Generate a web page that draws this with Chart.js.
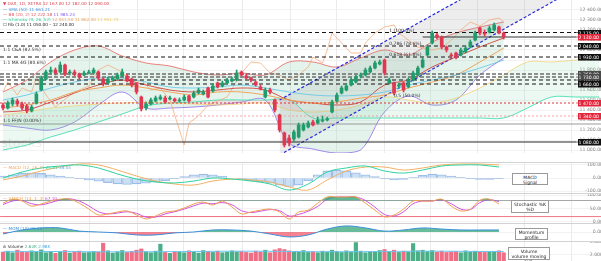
<!DOCTYPE html>
<html lang="de">
<head>
<meta charset="utf-8">
<title>DAX Chart</title>
<script src="https://cdn.jsdelivr.net/npm/chart.js@4.4.1/dist/chart.umd.min.js"></script>
<style>
  html, body { margin: 0; padding: 0; background: #fff; }
  body { width: 601px; height: 261px; position: relative; overflow: hidden; font-family: 'DejaVu Sans', sans-serif; }
  .pane { position: absolute; left: 0; width: 601px; }
  .sep { position: absolute; left: 0; width: 601px; height: 1px; background: #d2d2d2; }
  .leg { position: absolute; left: 3px; font-size: 4.2px; line-height: 5px; white-space: nowrap; }
  .box { position: absolute; background: #fff; border: 1px solid #9a9a9a; font-size: 4.5px; line-height: 5.1px; text-align: center; color: #222; padding-top: 0.5px; box-sizing: border-box; }
</style>
</head>
<body>
<div class="pane" style="top:0;height:162px"><canvas id="mainChart"></canvas></div>
<div class="pane" style="top:163px;height:30px"><canvas id="macdChart"></canvas></div>
<div class="pane" style="top:193px;height:30px"><canvas id="stochChart"></canvas></div>
<div class="pane" style="top:223px;height:18px"><canvas id="momChart"></canvas></div>
<div class="pane" style="top:241px;height:20px"><canvas id="volChart"></canvas></div>
<div class="sep" style="top:162px"></div>
<div class="sep" style="top:193px"></div>
<div class="sep" style="top:223px"></div>
<div class="sep" style="top:241px"></div>

<div class="leg" style="top:1px;color:#d8434e">▼ DAX, 1D, XETRA 12 167.00 12 182.00 12 090.00</div>
<div class="leg" style="top:6.5px;color:#3f8fdc">— SMA (50) 11 661.21</div>
<div class="leg" style="top:11.5px;color:#e0525a">— BB (20, 2) 12 222.18 <span style="color:#8b5cf0">11 985.24</span></div>
<div class="leg" style="top:16.5px;color:#2fcf9f">— Ichimoku (9, 26, 52) <span style="color:#f0a35a">12 041.50 11 862.00</span> <span style="color:#e8c860">11 951.75</span></div>
<div class="leg" style="top:21.5px;color:#222">☐ Fib (1.0) 11 050.00 – 12 240.00</div>

<div class="leg" style="top:164.5px;color:#f0a35a">— MACD (12, 26, 9) <span style="color:#2fcf9f">25.91</span> <span style="color:#6fa8dc">38.04</span></div>
<div class="leg" style="top:195.5px;color:#f0a050">— STOCH (14, 3, 3) <span style="color:#d050e0">67.10</span></div>
<div class="leg" style="top:225.5px;color:#3b8fd9">— MOM (10) 26.12</div>
<div class="leg" style="top:243.5px;color:#333">ılı Volume <span style="color:#3aa876">2.62K</span> <span style="color:#4aa8e0">2.98K</span></div>

<div class="box" style="left:512px;top:173px;width:36px;height:12px">MACD<br>Signal</div>
<div class="box" style="left:511px;top:200px;width:38px;height:13px">Stochastic %K<br>%D</div>
<div class="box" style="left:515px;top:228px;width:33px;height:12px">Momentum<br>profile</div>
<div class="box" style="left:508px;top:247px;width:42px;height:13px">Volume<br>volume moving avg.</div>

<script>
// ---- candles (index 0..105) ----
const candleOpen = [11450,11420,11460,11490,11460,11440,11390,11470,11600,11710,
  11780,11800,11780,11850,11770,11780,11760,11750,11770,11770,
  11780,11710,11670,11700,11710,11740,11740,11710,11660,11530,
  11420,11460,11490,11510,11520,11510,11510,11490,11500,11540,
  11530,11570,11560,11620,11590,11670,11640,11670,11690,11700,
  11780,11740,11720,11680,11630,11530,11600,11500,11350,11170,
  11120,11110,11130,11200,11230,11280,11270,11290,11300,11380,
  11490,11570,11600,11650,11680,11740,11750,11780,11820,11860,
  11900,11670,11670,11640,11670,11630,11700,11750,11830,11950,
  12070,12150,12130,12030,11950,11970,11950,11980,12030,12100,
  12220,12170,12180,12200,12230,12170];
const candleClose = [11420,11470,11500,11460,11420,11390,11430,11560,11720,11780,
  11800,11770,11850,11760,11780,11760,11730,11770,11780,11800,
  11720,11660,11710,11720,11750,11780,11690,11650,11580,11410,
  11460,11500,11520,11530,11480,11520,11490,11500,11530,11490,
  11570,11600,11580,11530,11640,11630,11670,11700,11710,11770,
  11750,11720,11700,11650,11610,11600,11580,11400,11200,11050,
  11070,11180,11250,11250,11270,11250,11300,11300,11310,11480,
  11550,11620,11640,11700,11730,11750,11800,11820,11870,11880,
  11770,11700,11570,11650,11600,11700,11770,11820,11900,12030,
  12170,12130,12030,12000,11940,11930,12000,12020,12080,12170,
  12170,12160,12220,12250,12170,12130];
const candleHigh = [11470,11490,11520,11510,11480,11460,11450,11580,11740,11800,
  11830,11820,11880,11860,11800,11800,11770,11790,11800,11820,
  11790,11720,11730,11740,11770,11810,11760,11720,11670,11540,
  11480,11520,11540,11550,11540,11540,11520,11520,11550,11550,
  11590,11620,11600,11630,11660,11680,11690,11720,11730,11800,
  11790,11760,11730,11690,11650,11620,11620,11510,11360,11180,
  11150,11200,11270,11270,11290,11300,11330,11340,11330,11500,
  11570,11640,11660,11720,11750,11770,11820,11840,11890,11900,
  11910,11720,11680,11670,11680,11720,11790,11840,11920,12050,
  12190,12170,12140,12040,11970,11980,12020,12040,12100,12190,
  12230,12200,12240,12270,12240,12180];
const candleLow = [11400,11410,11440,11440,11400,11370,11380,11460,11590,11700,
  11760,11750,11770,11740,11750,11740,11710,11740,11760,11760,
  11700,11640,11660,11690,11700,11730,11680,11630,11560,11390,
  11400,11450,11480,11500,11470,11500,11480,11480,11490,11480,
  11520,11560,11550,11520,11580,11620,11630,11660,11680,11690,
  11740,11710,11680,11640,11600,11520,11560,11380,11180,11030,
  11040,11090,11120,11190,11220,11240,11260,11280,11290,11370,
  11480,11560,11590,11640,11670,11720,11740,11770,11810,11850,
  11750,11660,11550,11620,11580,11620,11690,11740,11820,11940,
  12060,12110,12010,11980,11920,11910,11940,11970,12020,12090,
  12150,12140,12170,12190,12160,12110];
const volumeK = [2.8,3.1,2.6,3.4,3.0,2.7,3.2,2.9,3.5,2.6,
  3.0,2.4,2.8,3.3,2.5,2.9,3.1,2.6,2.7,3.0,
  2.8,5.6,3.2,2.5,2.9,3.3,2.7,3.0,3.4,3.8,
  2.9,2.6,3.1,5.3,2.7,2.4,3.0,2.8,2.6,3.2,
  2.9,2.5,3.3,3.0,2.7,3.1,2.6,2.8,3.2,2.9,
  3.0,2.7,2.5,3.1,2.8,3.4,2.6,3.5,3.9,3.6,
  3.2,3.0,2.8,3.3,2.7,2.9,2.6,3.1,2.8,3.4,
  3.0,2.7,3.2,2.9,5.8,3.1,2.6,3.0,2.8,3.3,
  3.6,3.0,3.4,2.7,3.1,2.9,5.5,3.2,3.4,3.0,
  3.3,2.8,3.1,2.7,2.9,3.0,2.6,3.2,2.8,3.1,
  2.9,2.7,3.0,2.8,3.2,2.6];

// ---- overlays on the price pane ----
const ovIdx = [0,5,10,15,20,25,30,35,40,45,50,55,60,65,70,75,80,85,90,95,100,105];
const bbUpper = [11580,11700,11880,12000,12040,11940,11870,11840,11780,11750,11770,11750,11880,11880,11830,11920,12000,11950,12080,12170,12230,12280];
const bbLower = [11250,11220,11200,11280,11450,11580,11420,11420,11430,11450,11480,11500,11070,11010,10970,11000,11380,11540,11450,11500,11750,11920];
const smaRed = [11380,11400,11480,11570,11650,11700,11650,11600,11580,11600,11620,11600,11500,11470,11450,11480,11650,11700,11830,11930,12030,12120];
const smaOrange = [11420,11450,11500,11580,11620,11650,11620,11580,11550,11580,11580,11550,11500,11470,11480,11520,11550,11620,11680,11750,11880,12020];
const smaCyan = [11500,11550,11620,11680,11720,11720,11680,11630,11620,11630,11650,11620,11580,11550,11540,11550,11580,11650,11700,11750,11820,11900];
const ichiIdx = [0,5,10,15,20,25,30,35,40,45,50,55,60,65,70,75,80,85,90,95,100,105,110,115,120,125];
const ichiSpanA = [11350,11380,11420,11440,11460,11470,11480,11470,11460,11450,11460,11470,11400,11380,11400,11450,11530,11500,11470,11520,11620,11750,11880,11880,11900,11920];
const ichiSpanB = [11000,11050,11130,11200,11280,11360,11440,11470,11480,11500,11500,11500,11500,11320,11320,11320,11320,11320,11320,11320,11320,11320,11420,11530,11530,11530];
const thinIdx = [0,1,3,4,6,7,9,11,12,15,18,20,22,25,27,29,31,33,35,37,38,39,41,43,47,50,52,54,56,58,60,62,64,65,67,68,69,71,73,75,76,78,80,82,83,85,87,90,92,94,96,98,100,102,104,105];
const thinVal = [11580,11680,11550,11620,11580,11730,11550,11430,11470,11580,11640,11800,11850,11780,11650,11700,11600,11620,11500,11200,11050,11270,11340,11450,11530,11770,11880,11870,11770,11750,11700,11750,11830,11930,11870,12000,12170,12070,11970,11970,12070,12170,12230,12250,12170,12100,12030,12000,12020,12100,12200,12280,12240,12300,12320,12280];
const chanIdx = [58, 126];
const chanUpper = [11500, 13300];
const chanLower = [10950, 12770];

// ---- horizontal levels ----
const blackDashLevels = [12175, 12040, 11930, 11700, 11660];
const grayDashLevels = [11760, 11730];
const redDotLevels = [11470];
const pinkDotLevels = [11340];
const graySolidLevels = [11260];
const blackSolidLevels = [11080];
const fibText = ['1:1 C&A (82.5%)', '1:1 MA 4G (80.6%)', '1:1 FF/N (0.00%)', '1 (100.0%)', '0.786 (78.6%)', '0.618 (61.8%)', '0.5 (50.0%)'];
const fibTextIdx = [0, 0, 0, 81, 81, 81, 82];
const fibTextPrice = [12000, 11870, 11290, 12195, 12060, 11950, 11545];
const watermarkText = 'stocks';

// ---- axes ----
const priceTicks = [11000,11100,11200,11300,11400,11500,11600,11700,11800,11900,12000,12100,12200,12300,12400];
const gridIdx = [8.4, 18.2, 28.1, 37.9, 50.3, 60.2, 70.0, 79.9, 89.7, 99.6, 109.4, 119.3];
const dateTickIdx = [1.1,5.2,9.4,13.6,17.8,22.0,26.2,30.4,34.6,38.8,43.0,47.2,51.4,55.6,59.7,63.9,68.1,72.3,76.5,80.7,84.9,89.1,93.3,97.5,101.7];
const dateTickLabels = ['Mar','9','16','23','30','Apr','13','20','27','May','11','18','25','Jun','8','15','22','29','Jul','13','20','27','Aug','10','17'];

// ---- lower panes ----
const idx4 = [0,4,8,12,16,20,24,28,32,36,40,44,48,52,56,60,64,68,72,76,80,84,88,92,96,100,104];
const macdLine = [0,46,77,92,100,77,31,-8,-31,-38,-23,0,-8,-23,-46,-92,-46,46,77,92,54,38,61,92,100,100,84];
const macdSignal = [-15,15,54,84,107,100,61,15,-23,-46,-54,-23,-8,-15,-31,-69,-92,-15,54,84,84,61,77,100,107,107,100];
const idx2 = [0,2,4,6,8,10,12,14,16,18,20,22,24,26,28,30,32,34,36,38,40,42,44,46,48,50,52,54,56,58,60,62,64,66,68,70,72,74,76,78,80,82,84,86,88,90,92,94,96,98,100,102,104];
const macdHist = [15,25,35,40,35,25,15,5,-5,-15,-25,-35,-45,-50,-45,-40,-30,-20,-5,10,25,30,25,15,0,-10,-20,-30,-40,-55,-65,-55,-20,25,55,60,55,40,25,10,-5,-15,-10,5,20,30,25,15,5,-5,-10,-10,-5];
const stochK = [70,85,78,59,67,78,85,85,70,48,26,30,37,41,26,11,22,37,41,52,67,74,63,78,56,30,37,44,48,37,11,37,44,70,93,93,93,93,70,44,19,26,48,78,78,78,85,59,41,48,81,85,67];
const stochD = [65,78,80,68,64,72,82,86,78,60,38,30,33,38,32,18,18,30,38,48,60,70,68,72,64,42,35,40,46,42,22,28,40,58,85,93,93,93,80,55,28,22,38,68,78,78,82,68,48,46,72,83,76];
const momentum = [-9,9,18,18,4,0,-4,-13,-13,-4,0,9,9,4,-9,-22,-13,13,27,18,4,9,18,13,9,9,9];
const volMaIdx = [0,10,20,30,40,50,60,70,80,90,100,105];
const volMa = [2.9,3.0,2.9,2.9,3.0,3.1,3.0,2.9,3.0,3.1,3.0,3.0];

const X_MIN = -0.63, X_MAX = 125.4;
const UP = '#1f9b6c', DOWN = '#e23750';

Chart.defaults.font.family = "'DejaVu Sans', sans-serif";
Chart.defaults.animation = false;
Chart.defaults.events = [];
Chart.defaults.plugins.legend.display = false;
Chart.defaults.plugins.tooltip.enabled = false;

function fmtPrice(v) {
  const [i, d] = v.toFixed(2).split('.');
  return i.replace(/\B(?=(\d{3})+(?!\d))/g, ' ') + '.' + d;
}

function gridAxis() {
  return {
    type: 'linear', min: X_MIN, max: X_MAX, offset: false,
    afterBuildTicks: ax => { ax.ticks = gridIdx.map(v => ({ value: v })); },
    afterFit: ax => { ax.height = 0; ax.paddingLeft = 0; ax.paddingRight = 0; },
    ticks: { display: false },
    grid: { drawTicks: false, offset: false, color: '#e2e2e2', lineWidth: 0.7 },
    border: { display: false }
  };
}

function yAxis(min, max, ticks, fmt) {
  return {
    position: 'right', min, max, beginAtZero: false,
    afterBuildTicks: ax => { ax.ticks = ticks.map(v => ({ value: v })); },
    afterFit: ax => { ax.width = 0; ax.paddingTop = 0; ax.paddingBottom = 0; },
    ticks: { mirror: true, padding: 2, color: '#8a8a8a', font: { size: 4.6 }, callback: fmt },
    grid: { drawTicks: false, color: '#ededed', lineWidth: 0.7 },
    border: { display: false }
  };
}

function lineDs(xs, ys, color, width, extra) {
  return Object.assign({
    type: 'line',
    data: xs.map((x, i) => ({ x, y: ys[i] })),
    borderColor: color, borderWidth: width,
    pointRadius: 0, tension: 0.35, fill: false, order: 5
  }, extra || {});
}

function levelDs(v, color, width, dash, from) {
  return {
    type: 'line',
    data: [{ x: from === undefined ? X_MIN : from, y: v }, { x: X_MAX, y: v }],
    borderColor: color, borderWidth: width, borderDash: dash,
    pointRadius: 0, fill: false, order: 3
  };
}

const candleIdx = candleOpen.map((_, i) => i);
const candleColors = candleOpen.map((o, i) => candleClose[i] >= o ? UP : DOWN);
const lastClose = candleClose[candleClose.length - 1];

// price labels on the right edge
const priceBoxes = {
  id: 'priceBoxes',
  afterDraw(chart) {
    const { ctx, scales: { y } } = chart;
    const items = []
      .concat(blackDashLevels.map(v => [v, '#111']))
      .concat(blackSolidLevels.map(v => [v, '#111']))
      .concat(grayDashLevels.map(v => [v, '#4a4a4a']))
      .concat(redDotLevels.map(v => [v, '#e3263b']))
      .concat(pinkDotLevels.map(v => [v, '#e3263b']))
      .concat([[lastClose, '#e3263b']]);
    ctx.save();
    ctx.font = '4.6px "DejaVu Sans"';
    ctx.textAlign = 'right';
    ctx.textBaseline = 'middle';
    items.forEach(([v, c]) => {
      const py = Math.round(y.getPixelForValue(v));
      ctx.fillStyle = c;
      ctx.fillRect(578, py - 3, 23, 6.5);
      ctx.fillStyle = '#fff';
      ctx.fillText(fmtPrice(v), 599, py + 0.3);
    });
    ctx.restore();
  }
};

// fib tool captions + watermark
const chartTexts = {
  id: 'chartTexts',
  beforeDatasetsDraw(chart) {
    const ctx = chart.ctx;
    ctx.save();
    ctx.font = '13px "DejaVu Sans"';
    ctx.fillStyle = 'rgba(0,0,0,0.08)';
    ctx.fillText(watermarkText, 1, 147);
    ctx.restore();
  },
  afterDatasetsDraw(chart) {
    const { ctx, scales: { x, y } } = chart;
    ctx.save();
    ctx.font = '4.5px "DejaVu Sans"';
    ctx.fillStyle = '#333';
    ctx.textBaseline = 'middle';
    fibText.forEach((t, i) => {
      ctx.fillText(t, x.getPixelForValue(fibTextIdx[i]), y.getPixelForValue(fibTextPrice[i]));
    });
    ctx.restore();
  }
};

const levelSets = []
  .concat(blackDashLevels.map(v => levelDs(v, '#151515', 1, [4, 3])))
  .concat(grayDashLevels.map(v => levelDs(v, 'rgba(110,110,110,0.75)', 1.8, [4, 2])))
  .concat(redDotLevels.map(v => levelDs(v, '#e0303a', 1, [2, 2])))
  .concat(pinkDotLevels.map(v => levelDs(v, '#f2a0aa', 1, [2, 2])))
  .concat(graySolidLevels.map(v => levelDs(v, '#9a9a9a', 1, [])))
  .concat(blackSolidLevels.map(v => levelDs(v, '#262626', 1, [])))
  .concat([levelDs(lastClose, '#333', 1, [], 88)]);

new Chart(document.getElementById('mainChart'), {
  type: 'bar',
  data: {
    datasets: [
      lineDs(ovIdx, bbUpper, '#e8625f', 0.8, { fill: '+1', backgroundColor: 'rgba(150,212,185,0.26)', order: 9 }),
      lineDs(ovIdx, bbLower, '#8b5cf0', 0.8, { order: 9 }),
      lineDs(ichiIdx, ichiSpanA, '#f2d37a', 0.8, { fill: { target: '+1', above: 'rgba(130,215,175,0.16)', below: 'rgba(240,150,170,0.2)' }, order: 8 }),
      lineDs(ichiIdx, ichiSpanB, '#3fe0b0', 0.9, { order: 8 }),
      lineDs(chanIdx, chanUpper, '#2424e0', 1.2, { fill: '+1', backgroundColor: 'rgba(140,140,140,0.16)', borderDash: [3, 2], tension: 0, order: 7 }),
      lineDs(chanIdx, chanLower, '#2424e0', 1.2, { borderDash: [3, 2], tension: 0, order: 7 }),
      lineDs(ovIdx, smaCyan, '#5ec4e6', 0.8, { order: 6 }),
      lineDs(ovIdx, smaOrange, '#f0a35a', 1.0, { order: 6 }),
      lineDs(ovIdx, smaRed, '#d0433a', 0.9, { order: 6 }),
      lineDs(thinIdx, thinVal, '#f3a36c', 0.7, { order: 6, tension: 0 }),
      ...levelSets,
      {
        type: 'bar', data: candleIdx.map(i => ({ x: i, y: [candleLow[i], candleHigh[i]] })),
        backgroundColor: candleColors, barThickness: 1, grouped: false, order: 1
      },
      {
        type: 'bar', data: candleIdx.map(i => ({ x: i, y: [candleOpen[i], candleClose[i]] })),
        backgroundColor: candleColors, barThickness: 3, grouped: false, order: 0
      }
    ]
  },
  options: {
    responsive: true, maintainAspectRatio: false,
    layout: { padding: 0 },
    scales: {
      x: gridAxis(),
      xd: {
        type: 'linear', position: 'bottom', min: X_MIN, max: X_MAX, offset: false,
        afterBuildTicks: ax => { ax.ticks = dateTickIdx.map(v => ({ value: v })); },
        afterFit: ax => { ax.height = 9; ax.paddingLeft = 0; ax.paddingRight = 0; },
        ticks: { autoSkip: false, maxRotation: 0, padding: 2, color: '#7a7a7a', font: { size: 4.6 }, callback: (v, i) => dateTickLabels[i] },
        grid: { display: false },
        border: { display: false }
      },
      y: yAxis(10970, 12500, priceTicks, v => fmtPrice(v))
    }
  },
  plugins: [chartTexts, priceBoxes]
});

// MACD
new Chart(document.getElementById('macdChart'), {
  type: 'bar',
  data: {
    datasets: [
      lineDs(idx4, macdLine, '#2fd3a0', 1, { order: 1 }),
      lineDs(idx4, macdSignal, '#f3b062', 1, { order: 1 }),
      {
        type: 'bar', data: idx2.map((x, i) => ({ x, y: macdHist[i] })),
        backgroundColor: 'rgba(110,165,225,0.35)', borderColor: 'rgba(90,140,210,0.5)', borderWidth: 0.5,
        barThickness: 9, grouped: false, order: 2
      }
    ]
  },
  options: {
    responsive: true, maintainAspectRatio: false, layout: { padding: 0 },
    scales: { x: gridAxis(), y: yAxis(-115, 115, [100, 0, -100], v => v.toFixed(2)) }
  }
});

// Stochastic
new Chart(document.getElementById('stochChart'), {
  type: 'line',
  data: {
    datasets: [
      levelDs(80, '#a8a8a8', 1, []),
      levelDs(20, '#f07888', 1, []),
      lineDs(idx2, stochK, '#f0a050', 1, { fill: { target: { value: 80 }, above: 'rgba(40,160,110,0.75)', below: 'rgba(0,0,0,0)' }, order: 1 }),
      lineDs(idx2, stochD, '#d050e0', 1, { fill: { target: { value: 20 }, above: 'rgba(0,0,0,0)', below: 'rgba(240,80,100,0.75)' }, order: 1 })
    ]
  },
  options: {
    responsive: true, maintainAspectRatio: false, layout: { padding: 0 },
    scales: { x: gridAxis(), y: yAxis(-4, 108, [100, 50, 0], v => v.toFixed(2)) }
  }
});

// Momentum
new Chart(document.getElementById('momChart'), {
  type: 'line',
  data: {
    datasets: [
      lineDs(idx4, momentum, '#3b8fd9', 1, { fill: { target: 'origin', above: 'rgba(40,160,110,0.7)', below: 'rgba(240,80,100,0.7)' } })
    ]
  },
  options: {
    responsive: true, maintainAspectRatio: false, layout: { padding: 0 },
    scales: { x: gridAxis(), y: yAxis(-40, 40, [0], v => v.toFixed(2)) }
  }
});

// Volume
new Chart(document.getElementById('volChart'), {
  type: 'bar',
  data: {
    datasets: [
      lineDs(volMaIdx, volMa, '#6cc4ef', 1, { order: 0 }),
      {
        type: 'bar', data: candleIdx.map(i => ({ x: i, y: volumeK[i] })),
        backgroundColor: candleColors.map(c => c === UP ? '#4aae86' : '#f06e84'),
        barThickness: 3.5, grouped: false, order: 1
      }
    ]
  },
  options: {
    responsive: true, maintainAspectRatio: false, layout: { padding: 0 },
    scales: { x: gridAxis(), y: yAxis(0, 6.3, [6, 4, 2], v => v.toFixed(2) + 'K') }
  }
});
</script>
</body>
</html>
